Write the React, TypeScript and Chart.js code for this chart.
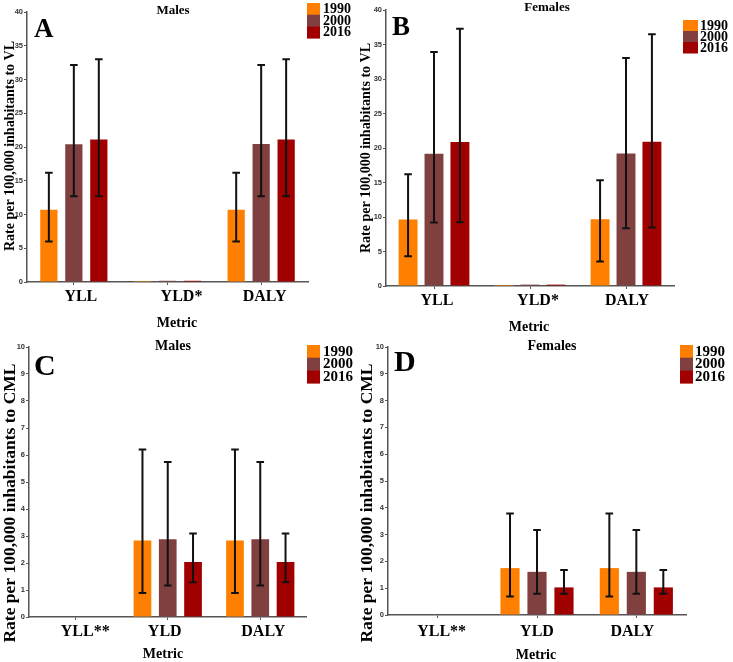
import React, { useEffect, useRef } from "react";
import { Chart, registerables } from "chart.js";

Chart.register(...registerables);

// ---------- DATA ----------
const years = ["1990", "2000", "2016"];
const yearColors = ["#FF8000", "#804040", "#A00000"];

const vlCategories = ["YLL", "YLD*", "DALY"];
const cmlCategories = ["YLL**", "YLD", "DALY"];

// A: Males, VL
const maleVL1990 = [10.7, 0.15, 10.7];
const maleVL1990Low = [6.0, null, 6.0];
const maleVL1990High = [16.2, null, 16.2];
const maleVL2000 = [20.4, 0.18, 20.45];
const maleVL2000Low = [12.7, null, 12.7];
const maleVL2000High = [32.15, null, 32.15];
const maleVL2016 = [21.1, 0.18, 21.1];
const maleVL2016Low = [12.7, null, 12.7];
const maleVL2016High = [33.0, null, 33.0];

// B: Females, VL
const femaleVL1990 = [9.63, 0.15, 9.68];
const femaleVL1990Low = [4.3, null, 3.54];
const femaleVL1990High = [16.2, null, 15.34];
const femaleVL2000 = [19.16, 0.2, 19.2];
const femaleVL2000Low = [9.2, null, 8.37];
const femaleVL2000High = [33.9, null, 33.05];
const femaleVL2016 = [20.86, 0.2, 20.9];
const femaleVL2016Low = [9.25, null, 8.47];
const femaleVL2016High = [37.3, null, 36.5];

// C: Males, CML
const maleCML1990 = [0, 2.83, 2.83];
const maleCML1990Low = [null, 0.89, 0.89];
const maleCML1990High = [null, 6.2, 6.2];
const maleCML2000 = [0, 2.88, 2.88];
const maleCML2000Low = [null, 1.17, 1.17];
const maleCML2000High = [null, 5.74, 5.74];
const maleCML2016 = [0, 2.04, 2.04];
const maleCML2016Low = [null, 1.29, 1.29];
const maleCML2016High = [null, 3.09, 3.09];

// D: Females, CML
const femaleCML1990 = [0, 1.75, 1.75];
const femaleCML1990Low = [null, 0.69, 0.69];
const femaleCML1990High = [null, 3.79, 3.79];
const femaleCML2000 = [0, 1.61, 1.61];
const femaleCML2000Low = [null, 0.79, 0.79];
const femaleCML2000High = [null, 3.17, 3.17];
const femaleCML2016 = [0, 1.03, 1.03];
const femaleCML2016Low = [null, 0.79, 0.79];
const femaleCML2016High = [null, 1.68, 1.68];

const vlAxisMax = 40;
const vlAxisStep = 5;
const cmlAxisMax = 10;
const cmlAxisStep = 1;

const vlYTitle = "Rate per 100,000 inhabitants to VL";
const cmlYTitle = "Rate per 100,000 inhabitants to CML";
const xTitleText = "Metric";

// ---------- PLUGINS ----------
const SERIF = "'Liberation Serif', 'Times New Roman', serif";

const errorBarPlugin = {
  id: "errorBars",
  afterDatasetsDraw(chart: any) {
    const { ctx } = chart;
    const y = chart.scales.y;
    ctx.save();
    ctx.strokeStyle = "#111";
    ctx.lineWidth = 2;
    chart.data.datasets.forEach((ds: any, i: number) => {
      const meta = chart.getDatasetMeta(i);
      meta.data.forEach((bar: any, j: number) => {
        const lo = ds.errLow[j];
        const hi = ds.errHigh[j];
        if (lo == null || hi == null) return;
        const x = bar.x;
        const yl = y.getPixelForValue(lo);
        const yh = y.getPixelForValue(hi);
        const c = 3.8;
        ctx.beginPath();
        ctx.moveTo(x, yl);
        ctx.lineTo(x, yh);
        ctx.moveTo(x - c, yl);
        ctx.lineTo(x + c, yl);
        ctx.moveTo(x - c, yh);
        ctx.lineTo(x + c, yh);
        ctx.stroke();
      });
    });
    ctx.restore();
  },
};

const decorPlugin = {
  id: "decor",
  afterDraw(chart: any, _args: any, o: any) {
    const { ctx } = chart;
    ctx.save();
    ctx.fillStyle = "#000";
    // panel letter
    ctx.font = `bold ${o.letter.size}px ${SERIF}`;
    ctx.textAlign = "left";
    ctx.textBaseline = "alphabetic";
    ctx.fillText(o.letter.text, o.letter.x, o.letter.y);
    // category labels (placed from the x scale)
    const xs = chart.scales.x;
    ctx.font = `bold ${o.cats.size}px ${SERIF}`;
    ctx.textAlign = "center";
    ctx.textBaseline = "middle";
    chart.data.labels.forEach((lab: string, i: number) => {
      ctx.fillText(lab, xs.getPixelForTick(i) + o.cats.dx[i], o.cats.y);
    });
    // title
    ctx.font = `bold ${o.title.size}px ${SERIF}`;
    ctx.fillText(o.title.text, o.title.x, o.title.y);
    // x title
    ctx.font = `bold ${o.xTitle.size}px ${SERIF}`;
    ctx.fillText(o.xTitle.text, o.xTitle.x, o.xTitle.y);
    // y title
    ctx.save();
    ctx.translate(o.yTitle.x, o.yTitle.y);
    ctx.rotate(-Math.PI / 2);
    ctx.font = `bold ${o.yTitle.size}px ${SERIF}`;
    ctx.fillText(o.yTitle.text, 0, 0);
    ctx.restore();
    // legend
    const lg = o.legend;
    ctx.font = `bold ${lg.size}px ${SERIF}`;
    ctx.textAlign = "left";
    ctx.textBaseline = "middle";
    chart.data.datasets.forEach((ds: any, i: number) => {
      const top = lg.y + i * lg.rowH;
      ctx.fillStyle = ds.backgroundColor;
      ctx.fillRect(lg.x, top, lg.sw, lg.rowH + 0.5);
      ctx.fillStyle = "#000";
      ctx.fillText(ds.label, lg.textX, top + lg.rowH / 2 + 0.5);
    });
    ctx.restore();
  },
};

// ---------- PANELS ----------
const Y_W = 20;
const X_H = 30;

type Spec = any;

const panels: Spec[] = [
  {
    key: "A",
    left: 0, top: 0, w: 355, h: 340, plotH: 330,
    area: { l: 27, r: 308, t: 12, b: 282 },
    categories: vlCategories,
    values: [maleVL1990, maleVL2000, maleVL2016],
    lows: [maleVL1990Low, maleVL2000Low, maleVL2016Low],
    highs: [maleVL1990High, maleVL2000High, maleVL2016High],
    yMax: vlAxisMax, yStep: vlAxisStep,
    catPct: 0.8, barPct: 0.69,
    decor: {
      letter: { text: "A", x: 34, y: 37, size: 27 },
      title: { text: "Males", x: 173, y: 11, size: 13 },
      cats: { y: 297, size: 16, dx: [7, 14, 3.5] },
      xTitle: { text: xTitleText, x: 177, y: 323, size: 14 },
      yTitle: { text: vlYTitle, x: 10, y: 146, size: 14 },
      legend: { x: 307, y: 3, sw: 13, rowH: 11.7, textX: 323, size: 14 },
    },
  },
  {
    key: "B",
    left: 355, top: 0, w: 378, h: 340, plotH: 330,
    area: { l: 31, r: 319, t: 10, b: 286 },
    categories: vlCategories,
    values: [femaleVL1990, femaleVL2000, femaleVL2016],
    lows: [femaleVL1990Low, femaleVL2000Low, femaleVL2016Low],
    highs: [femaleVL1990High, femaleVL2000High, femaleVL2016High],
    yMax: vlAxisMax, yStep: vlAxisStep,
    catPct: 0.81, barPct: 0.73,
    decor: {
      letter: { text: "B", x: 37, y: 35, size: 27 },
      title: { text: "Females", x: 192, y: 8, size: 13 },
      cats: { y: 301, size: 16, dx: [3, 8, 1] },
      xTitle: { text: xTitleText, x: 174, y: 327, size: 14 },
      yTitle: { text: vlYTitle, x: 11, y: 148, size: 14 },
      legend: { x: 328, y: 20, sw: 15, rowH: 11, textX: 345, size: 14 },
    },
  },
  {
    key: "C",
    left: 0, top: 330, w: 355, h: 332, plotH: 332,
    area: { l: 29, r: 306.5, t: 17, b: 287 },
    categories: cmlCategories,
    values: [maleCML1990, maleCML2000, maleCML2016],
    lows: [maleCML1990Low, maleCML2000Low, maleCML2016Low],
    highs: [maleCML1990High, maleCML2000High, maleCML2016High],
    yMax: cmlAxisMax, yStep: cmlAxisStep,
    catPct: 0.82, barPct: 0.7,
    decor: {
      letter: { text: "C", x: 34, y: 45, size: 30 },
      title: { text: "Males", x: 173, y: 16, size: 14 },
      cats: { y: 302, size: 16, dx: [10, -3, 3] },
      xTitle: { text: xTitleText, x: 163, y: 324, size: 14 },
      yTitle: { text: cmlYTitle, x: 10, y: 173, size: 17.5 },
      legend: { x: 307, y: 15, sw: 13, rowH: 12.7, textX: 323, size: 15 },
    },
  },
  {
    key: "D",
    left: 355, top: 330, w: 378, h: 332, plotH: 332,
    area: { l: 33, r: 331, t: 17, b: 285 },
    categories: cmlCategories,
    values: [femaleCML1990, femaleCML2000, femaleCML2016],
    lows: [femaleCML1990Low, femaleCML2000Low, femaleCML2016Low],
    highs: [femaleCML1990High, femaleCML2000High, femaleCML2016High],
    yMax: cmlAxisMax, yStep: cmlAxisStep,
    catPct: 0.815, barPct: 0.71,
    decor: {
      letter: { text: "D", x: 39, y: 41, size: 30 },
      title: { text: "Females", x: 197, y: 16, size: 14 },
      cats: { y: 302, size: 16, dx: [4, 0, -4] },
      xTitle: { text: xTitleText, x: 181, y: 325, size: 14 },
      yTitle: { text: cmlYTitle, x: 12, y: 173, size: 17.5 },
      legend: { x: 325, y: 15, sw: 13, rowH: 12.7, textX: 340, size: 15 },
    },
  },
];

function Panel({ spec }: { spec: Spec }) {
  const ref = useRef<HTMLCanvasElement | null>(null);
  useEffect(() => {
    const a = spec.area;
    const chart = new Chart(ref.current as HTMLCanvasElement, {
      type: "bar",
      data: {
        labels: spec.categories,
        datasets: years.map((yr, i) => ({
          label: yr,
          data: spec.values[i],
          errLow: spec.lows[i],
          errHigh: spec.highs[i],
          backgroundColor: yearColors[i],
          borderWidth: 0,
          categoryPercentage: spec.catPct,
          barPercentage: spec.barPct,
        })) as any,
      },
      options: {
        animation: false,
        responsive: false,
        devicePixelRatio: 1,
        layout: {
          padding: {
            left: a.l - Y_W,
            top: a.t,
            right: spec.w - a.r,
            bottom: spec.h - a.b - X_H,
          },
        },
        plugins: {
          legend: { display: false },
          title: { display: false },
          tooltip: { enabled: false },
          decor: spec.decor,
        } as any,
        scales: {
          x: {
            offset: true,
            afterFit: (s: any) => {
              s.height = X_H;
            },
            grid: {
              offset: false,
              drawOnChartArea: false,
              drawTicks: true,
              tickLength: 3,
              color: "#555",
              lineWidth: 1,
            },
            border: { display: true, color: "#555", width: 1.5 },
            ticks: {
              display: false,
              maxRotation: 0,
              autoSkip: false,
            },
          },
          y: {
            min: 0,
            max: spec.yMax,
            afterFit: (s: any) => {
              s.width = Y_W;
            },
            grid: {
              drawOnChartArea: false,
              drawTicks: true,
              tickLength: 3,
              color: "#555",
              lineWidth: 1,
            },
            border: { display: true, color: "#555", width: 1.5 },
            ticks: {
              stepSize: spec.yStep,
              color: "#333",
              font: { family: "'Liberation Sans', Arial, sans-serif", size: 7.5, weight: "bold" },
              padding: 1,
            },
          },
        },
      } as any,
      plugins: [errorBarPlugin, decorPlugin],
    });
    return () => chart.destroy();
  }, [spec]);
  return (
    <canvas
      ref={ref}
      width={spec.w}
      height={spec.h}
      style={{
        position: "absolute",
        left: spec.left,
        top: spec.top,
        width: spec.w,
        height: spec.h,
      }}
    />
  );
}

export default function App() {
  return (
    <div
      style={{
        position: "absolute",
        left: 0,
        top: 0,
        width: 733,
        height: 662,
        background: "#fff",
      }}
    >
      {panels.map((p) => (
        <Panel key={p.key} spec={p} />
      ))}
    </div>
  );
}
